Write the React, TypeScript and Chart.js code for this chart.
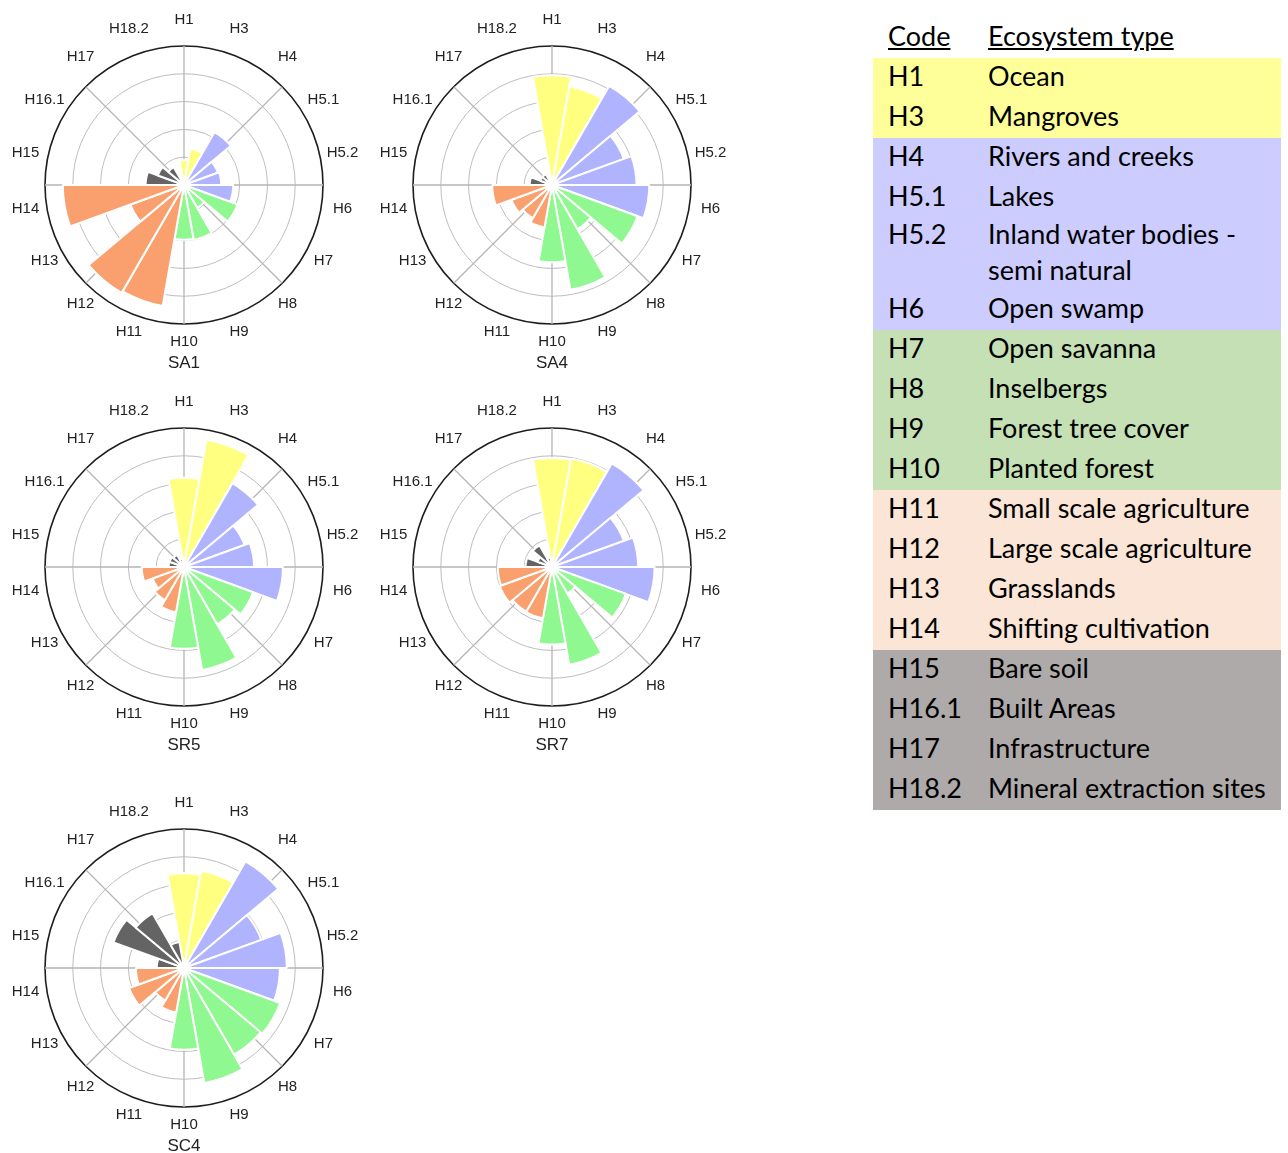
import React, { useEffect, useRef } from 'react';
import { Chart, registerables } from 'chart.js';

Chart.register(...registerables);

// ---- data ----
const categories = ['H1', 'H3', 'H4', 'H5.1', 'H5.2', 'H6', 'H7', 'H8', 'H9', 'H10', 'H11', 'H12', 'H13', 'H14', 'H15', 'H16.1', 'H17', 'H18.2'];
const categoryGroup = [0, 0, 1, 1, 1, 1, 2, 2, 2, 2, 3, 3, 3, 3, 4, 4, 4, 4];
const barColors = ['#FFFF80', '#B0B4FF', '#90F890', '#F9A06E', '#646464'];

const sa1Values = [0.9, 1.33, 2.2, 1.3, 1.34, 1.77, 2.05, 0.95, 2.0, 1.97, 4.42, 4.48, 2.05, 4.36, 1.38, 1.0, 0.74, 0.1];
const sa4Values = [3.95, 3.6, 4.12, 2.75, 3.04, 3.5, 3.28, 1.83, 3.83, 2.78, 1.55, 1.38, 1.55, 2.15, 0.8, 0.45, 0.45, 0.2];
const sr5Values = [3.21, 4.65, 3.48, 2.32, 2.52, 3.56, 2.65, 2.38, 3.76, 2.94, 1.65, 1.38, 1.2, 1.52, 0.55, 0.55, 0.5, 0.3];
const sr7Values = [3.92, 3.96, 4.3, 2.75, 3.1, 3.69, 2.83, 1.1, 3.57, 2.79, 1.87, 1.85, 2.0, 1.95, 0.95, 0.55, 0.9, 0.35];
const sc4Values = [3.41, 3.55, 4.43, 2.96, 3.7, 3.45, 3.68, 3.6, 4.2, 2.94, 1.62, 1.35, 2.1, 1.73, 0.98, 2.7, 2.27, 0.95];

const siteTitles = ['SA1', 'SA4', 'SR5', 'SR7', 'SC4'];
const siteValues = [sa1Values, sa4Values, sr5Values, sr7Values, sc4Values];

const legendCodes = ['H1', 'H3', 'H4', 'H5.1', 'H5.2', 'H6', 'H7', 'H8', 'H9', 'H10', 'H11', 'H12', 'H13', 'H14', 'H15', 'H16.1', 'H17', 'H18.2'];
const legendNames = ['Ocean', 'Mangroves', 'Rivers and creeks', 'Lakes', 'Inland water bodies -\nsemi natural', 'Open swamp', 'Open savanna', 'Inselbergs', 'Forest tree cover', 'Planted forest', 'Small scale agriculture', 'Large scale agriculture', 'Grasslands', 'Shifting cultivation', 'Bare soil', 'Built Areas', 'Infrastructure', 'Mineral extraction sites'];
const legendColors = ['#FFFF99', '#CCCCFF', '#C5E0B4', '#FBE5D6', '#AEAAAA'];

// ---- layout ----
const CANVAS_W = 360;
const CANVAS_H = 370;
const RADIUS = 139;
const chartCenters = [
  [184, 185],
  [552, 185],
  [184, 567],
  [552, 567],
  [184, 968],
];

const LABEL_FONT = "15px 'Liberation Sans', Arial, sans-serif";
const TITLE_FONT = "17px 'Liberation Sans', Arial, sans-serif";

function makeDecorPlugin(title: string) {
  return {
    id: 'roseDecor',
    beforeDatasetsDraw(chart: any) {
      const s = chart.scales.r;
      const cx = s.xCenter;
      const cy = s.yCenter;
      const R = s.drawingArea;
      const ctx = chart.ctx;
      ctx.save();
      ctx.strokeStyle = '#b5b5b5';
      ctx.lineWidth = 1.3;
      ctx.beginPath();
      for (let k = 0; k < 8; k++) {
        const a = (k * 45 * Math.PI) / 180;
        ctx.moveTo(cx, cy);
        ctx.lineTo(cx + Math.sin(a) * R, cy - Math.cos(a) * R);
      }
      ctx.stroke();
      ctx.restore();
    },
    afterDraw(chart: any) {
      const s = chart.scales.r;
      const cx = s.xCenter;
      const cy = s.yCenter;
      const R = s.drawingArea;
      const ctx = chart.ctx;
      const labels: string[] = chart.data.labels;
      ctx.save();
      ctx.fillStyle = '#222222';
      ctx.font = LABEL_FONT;
      ctx.textAlign = 'center';
      ctx.textBaseline = 'middle';
      const n = labels.length;
      const rl = R * 1.158;
      labels.forEach((lab, i) => {
        const a = (i * 360 / n) * Math.PI / 180;
        ctx.fillText(lab, cx + Math.sin(a) * rl, cy - Math.cos(a) * rl - 4.5);
      });
      ctx.font = TITLE_FONT;
      ctx.fillText(title, cx, cy + R * 1.284);
      ctx.restore();
    },
  };
}

function RoseChart({ title, values, cx, cy }: { title: string; values: number[]; cx: number; cy: number }) {
  const ref = useRef<HTMLCanvasElement>(null);
  useEffect(() => {
    const padX = CANVAS_W / 2 - RADIUS;
    const padTop = 185 - RADIUS;
    const padBottom = CANVAS_H - 185 - RADIUS;
    const chart = new Chart(ref.current as HTMLCanvasElement, {
      type: 'polarArea',
      data: {
        labels: categories,
        datasets: [
          {
            data: values,
            backgroundColor: categories.map((_, i) => barColors[categoryGroup[i]]),
            borderColor: '#ffffff',
            borderWidth: 2,
          },
        ],
      },
      options: {
        responsive: false,
        animation: false,
        devicePixelRatio: 1,
        layout: { padding: { left: padX, right: padX, top: padTop, bottom: padBottom } },
        plugins: { legend: { display: false }, tooltip: { enabled: false }, title: { display: false } },
        scales: {
          r: {
            min: 0,
            max: 5,
            startAngle: -10,
            ticks: { display: false, stepSize: 1 },
            grid: {
              circular: true,
              color: (c: any) => (c.tick && c.tick.value === 5 ? '#1e1e1e' : '#bdbdbd'),
              lineWidth: (c: any) => (c.tick && c.tick.value === 5 ? 1.6 : 1),
            },
            angleLines: { display: false },
            pointLabels: { display: false },
          },
        },
      } as any,
      plugins: [makeDecorPlugin(title)],
    });
    return () => chart.destroy();
  }, [title, values]);
  return (
    <canvas
      ref={ref}
      width={CANVAS_W}
      height={CANVAS_H}
      style={{ position: 'absolute', left: cx - CANVAS_W / 2, top: cy - 185, width: CANVAS_W, height: CANVAS_H }}
    />
  );
}

const textShift: React.CSSProperties = { position: 'relative', top: -2 };

function Legend() {
  const font = "Lato, 'Open Sans', sans-serif";
  const rows = legendCodes.map((code, i) => {
    const name = legendNames[i];
    const twoLines = name.includes('\n');
    return (
      <div
        key={code}
        style={{
          display: 'flex',
          height: twoLines ? 72 : 40,
          lineHeight: twoLines ? '36px' : '40px',
          background: legendColors[categoryGroup[i]],
        }}
      >
        <div style={{ width: 100, paddingLeft: 15, boxSizing: 'content-box' as const }}>
          <span style={textShift}>{code}</span>
        </div>
        <div style={{ whiteSpace: 'pre-line', ...textShift }}>{name}</div>
      </div>
    );
  });
  return (
    <div style={{ position: 'absolute', left: 873, top: 17.5, width: 408, fontFamily: font, fontSize: 27, color: '#000' }}>
      <div style={{ display: 'flex', height: 40, lineHeight: '40px' }}>
        <div style={{ width: 100, paddingLeft: 15, boxSizing: 'content-box' as const }}>
          <span style={{ textDecoration: 'underline', ...textShift }}>Code</span>
        </div>
        <div>
          <span style={{ textDecoration: 'underline', ...textShift }}>Ecosystem type</span>
        </div>
      </div>
      {rows}
    </div>
  );
}

export default function App() {
  return (
    <div style={{ position: 'absolute', left: 0, top: 0, width: 1288, height: 1153, overflow: 'hidden', background: '#fff' }}>
      {siteTitles.map((t, i) => (
        <RoseChart key={t} title={t} values={siteValues[i]} cx={chartCenters[i][0]} cy={chartCenters[i][1]} />
      ))}
      <Legend />
    </div>
  );
}
